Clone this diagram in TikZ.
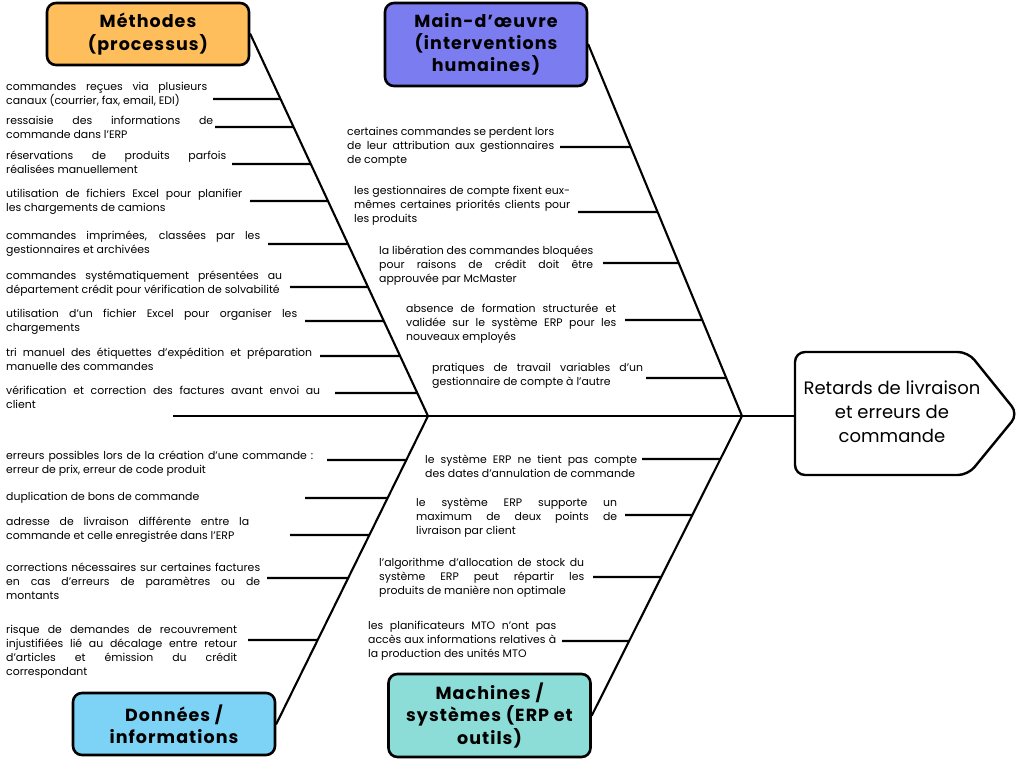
\documentclass[tikz,border=0pt]{standalone}
\usepackage{fontspec}
\setmainfont{Poppins}
\newfontfamily\headfont{Poppins}[LetterSpace=6]
\usetikzlibrary{calc}
\definecolor{cMeth}{HTML}{FFBE5C}
\definecolor{cMO}{HTML}{7A7CF0}
\definecolor{cDon}{HTML}{7DD3F6}
\definecolor{cMach}{HTML}{8CDDD8}
\tolerance=9999
\hyphenpenalty=10000
\exhyphenpenalty=10000
\begin{document}
\begin{tikzpicture}[x=1pt,y=-1pt,
  txt/.style={inner sep=0pt,anchor=base west,align=justify,font=\fontsize{10.9}{14}\selectfont},
  catbox/.style={draw=black,line width=2.6pt,rounded corners=9pt,inner sep=2pt,align=center,
     font=\headfont\bfseries\fontsize{17.5}{22.3}\selectfont,minimum width=202pt},
  bone/.style={line width=2.1pt,line cap=round},
  rib/.style={line width=2.4pt},
  headbox/.style={draw=black,line width=2.4pt,rounded corners=10pt,fill=white}]
\useasboundingbox (0,0) rectangle (1021,769);
\fill[white] (0,0) rectangle (1021,769);

% category boxes
\node[catbox,fill=cMeth,minimum height=62pt] (meth) at (148,34) {Méthodes\\(processus)};
\node[catbox,fill=cMO,minimum height=83pt] (mo) at (486,44.5) {Main-d’œuvre\\(interventions\\humaines)};
\node[catbox,fill=cDon,minimum height=62pt] (don) at (174,724) {Données /\\informations};
\node[catbox,fill=cMach,minimum height=83pt] (mach) at (489.5,715.5) {Machines /\\systèmes (ERP et\\outils)};

% head
\draw[headbox] (795,352) -- (968,352) -- (1018,414) -- (968,475) -- (795,475) -- cycle;
\node[align=center,inner sep=0pt,font=\fontsize{18}{24}\selectfont] (head) at (892,412) {Retards de livraison\\et erreurs de\\commande};
\coordinate (hw) at (795,416);

% spine and bones
\coordinate (sp0) at (173,416);
\coordinate (J1) at (428,416);
\coordinate (J2) at (742,416);
\draw[rib] (sp0) -- (hw);
\draw[bone] (meth.east) -- (J1);
\draw[bone] (mo.east) -- (J2);
\draw[bone] (don.east) -- (J1);
\draw[bone] (mach.east) -- (J2);

% ribs
\foreach \xs/\yy [count=\i] in {213/99,215/127,232/164,250/201,268/244,290/287,305/321,320/356,335/393}{
  \coordinate (rm\i) at (\xs,\yy);
  \draw[rib] (rm\i) -- ($(meth.east)!{(\yy-34)/382}!(J1)$);}
\foreach \xs/\yy [count=\i] in {560/147,578/212,603/263,625/320,646/378}{
  \coordinate (ro\i) at (\xs,\yy);
  \draw[rib] (ro\i) -- ($(mo.east)!{(\yy-44.5)/371.5}!(J2)$);}
\foreach \xs/\yy [count=\i] in {327/460,305/498,290/535,267/578,248/640}{
  \coordinate (rd\i) at (\xs,\yy);
  \draw[rib] (rd\i) -- ($(don.east)!{(724-\yy)/308}!(J1)$);}
\foreach \xs/\yy [count=\i] in {642/459,625/515,593/577,562/641}{
  \coordinate (rc\i) at (\xs,\yy);
  \draw[rib] (rc\i) -- ($(mach.east)!{(715.5-\yy)/299.5}!(J2)$);}

% Méthodes texts
\node[txt,text width=201pt] (m1) at (6,90) {commandes reçues via plusieurs\linebreak canaux (courrier, fax, email, EDI)};
\node[txt,text width=207pt] (m2) at (6,124) {ressaisie des informations de\linebreak commande dans l’ERP};
\node[txt,text width=220pt] (m3) at (6,159) {réservations de produits parfois\linebreak réalisées manuellement};
\node[txt,text width=236pt] (m4) at (6,197) {utilisation de fichiers Excel pour planifier\linebreak les chargements de camions};
\node[txt,text width=254pt] (m5) at (6,239) {commandes imprimées, classées par les\linebreak gestionnaires et archivées};
\node[txt,text width=276pt] (m6) at (6,279) {commandes systématiquement présentées au\linebreak département crédit pour vérification de solvabilité};
\node[txt,text width=291pt] (m7) at (6,317) {utilisation d’un fichier Excel pour organiser les\linebreak chargements};
\node[txt,text width=306pt] (m8) at (6,356) {tri manuel des étiquettes d’expédition et préparation\linebreak manuelle des commandes};
\node[txt,text width=314pt] (m9) at (6,394) {vérification et correction des factures avant envoi au\linebreak client};

% Main-d'oeuvre texts
\node[txt,text width=207pt] (o1) at (347,135.5) {certaines commandes se perdent lors\linebreak de leur attribution aux gestionnaires\linebreak de compte};
\node[txt,text width=216pt] (o2) at (354,194.5) {les gestionnaires de compte fixent eux-\linebreak mêmes certaines priorités clients pour\linebreak les produits};
\node[txt,text width=214pt] (o3) at (379,254.5) {la libération des commandes bloquées\linebreak pour raisons de crédit doit être\linebreak approuvée par McMaster};
\node[txt,text width=210pt] (o4) at (406,312.5) {absence de formation structurée et\linebreak validée sur le système ERP pour les\linebreak nouveaux employés};
\node[txt,text width=211pt] (o5) at (432,371) {pratiques de travail variables d’un\linebreak gestionnaire de compte à l’autre};

% Données texts
\node[txt,text width=307pt] (d1) at (6,459.5) {erreurs possibles lors de la création d’une commande~:\linebreak erreur de prix, erreur de code produit};
\node[txt,text width=220pt] (d2) at (6,500.5) {duplication de bons de commande};
\node[txt,text width=243pt] (d3) at (6,525.5) {adresse de livraison différente entre la\linebreak commande et celle enregistrée dans l’ERP};
\node[txt,text width=254pt] (d4) at (6,571.5) {corrections nécessaires sur certaines factures\linebreak en cas d’erreurs de paramètres ou de\linebreak montants};
\node[txt,text width=231pt] (d5) at (6,633.5) {risque de demandes de recouvrement\linebreak injustifiées lié au décalage entre retour\linebreak d’articles et émission du crédit\linebreak correspondant};

% Machines texts
\node[txt,text width=212pt] (c1) at (425,463.5) {le système ERP ne tient pas compte\linebreak des dates d’annulation de commande};
\node[txt,text width=201pt] (c2) at (416,506.5) {le système ERP supporte un\linebreak maximum de deux points de\linebreak livraison par client};
\node[txt,text width=205pt] (c3) at (379,566.5) {l’algorithme d’allocation de stock du\linebreak système ERP peut répartir les\linebreak produits de manière non optimale};
\node[txt,text width=188pt] (c4) at (368,629.5) {les planificateurs MTO n’ont pas\linebreak accès aux informations relatives à\linebreak la production des unités MTO};
\end{tikzpicture}
\end{document}
